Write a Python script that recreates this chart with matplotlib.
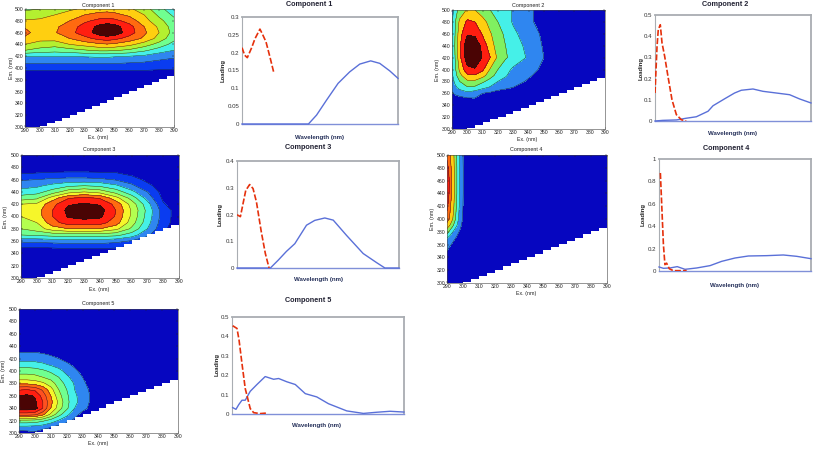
import numpy as np
import matplotlib
matplotlib.use("Agg")
import matplotlib.pyplot as plt

W, H = 813, 449
plt.rcParams['font.family'] = ['Liberation Sans', 'DejaVu Sans']

# ---- colours of the bands
DB, BL, LB, CY, GR, YG, YE, GO, OR, RE, DK = ('#0606c0', '#0a3cf0', '#2f86f0', '#45f0e8', '#70ff90',
                                               '#b4ff50', '#f6f62a', '#ffcf10', '#ff6a10', '#ff1e10', '#4a0404')
bands1 = [DB, BL, LB, CY, GR, '#b4f030', GO, OR, RE, DK]
bands2 = [DB, LB, CY, '#80f060', GO, RE, DK]
bands3 = [DB, BL, LB, CY, GR, YG, YE, OR, RE, DK]
bands4 = [DB, LB, CY, '#80f060', GO, OR, RE]
bands5 = [DB, LB, CY, GR, YG, YE, OR, '#ff5020', RE, DK]

# ---- contour data
ex1 = [290, 300, 310, 320, 330, 340, 345, 350, 360, 370, 380, 390]
em1 = [300, 394, 397, 410, 420, 430, 440, 450, 460, 470, 480, 490, 500]
z1 = [
 [.3, .3, .3, .3, .3, .3, .3, .3, .3, .3, .3, .3],
 [.8, .8, .8, .8, .8, .8, .8, .8, .8, .8, .8, .8],
 [1.1, 1.1, 1.1, 1.1, 1.1, 1.1, 1.1, 1.1, 1.1, 1.1, 1.0, 1.0],
 [2.2, 2.2, 2.2, 2.2, 2.2, 2.2, 2.2, 2.2, 2.1, 2.0, 1.8, 1.6],
 [3.0, 3.0, 3.0, 3.0, 3.1, 3.2, 3.2, 3.1, 3.0, 2.8, 2.4, 2.2],
 [5.0, 4.6, 4.4, 4.6, 4.9, 5.2, 5.2, 5.1, 4.8, 4.2, 3.5, 3.0],
 [6.0, 5.6, 5.4, 6.0, 6.4, 6.8, 6.9, 6.8, 6.3, 5.5, 4.6, 3.6],
 [6.8, 6.3, 6.4, 7.0, 7.7, 8.3, 8.5, 8.3, 7.6, 6.8, 5.6, 4.3],
 [7.3, 6.5, 6.9, 7.7, 8.5, 9.5, 9.8, 9.6, 8.5, 7.2, 6.0, 4.6],
 [6.9, 6.4, 6.8, 7.5, 8.4, 9.3, 9.6, 9.4, 8.4, 7.0, 5.8, 4.5],
 [6.1, 6.2, 6.5, 7.0, 7.8, 8.3, 8.4, 8.3, 7.6, 6.4, 5.3, 4.3],
 [5.5, 5.6, 6.0, 6.5, 7.0, 7.4, 7.4, 7.3, 6.8, 6.0, 4.8, 3.8],
 [4.8, 5.0, 5.3, 5.8, 6.2, 6.5, 6.6, 6.5, 6.2, 5.4, 4.4, 3.2],
]

ex2 = [290, 292, 295, 300, 305, 310, 315, 320, 325, 330, 340, 350, 360, 390]
em2 = [300, 350, 360, 370, 380, 390, 400, 420, 440, 460, 480, 500]
z2 = [
 [.2, .2, .2, .2, .2, .2, .2, .2, .2, .2, .2, .2, .2, .2],
 [.3, .4, .5, .8, .9, .8, .7, .6, .6, .5, .4, .3, .2, .2],
 [.9, 1.2, 1.5, 1.7, 1.4, 1.0, .8, .6, .5, .4, .3, .2, .2, .2],
 [1.3, 1.8, 2.3, 2.9, 2.8, 2.3, 1.9, 1.4, 1.2, 1.0, .6, .3, .2, .2],
 [1.6, 2.2, 3.0, 3.8, 3.8, 3.2, 2.6, 2.0, 1.7, 1.3, .9, .5, .3, .2],
 [1.8, 2.6, 3.7, 4.8, 4.9, 4.4, 3.4, 2.6, 2.1, 1.6, 1.1, .7, .3, .2],
 [1.9, 2.8, 4.2, 5.7, 5.9, 5.2, 3.9, 3.0, 2.4, 1.8, 1.25, .85, .3, .2],
 [2.0, 3.0, 4.7, 6.6, 6.8, 5.9, 5.0, 3.8, 3.1, 2.7, 1.85, 1.0, .4, .2],
 [2.0, 3.1, 4.8, 6.8, 6.9, 5.6, 4.5, 3.5, 3.0, 2.5, 1.7, .9, .3, .2],
 [2.0, 3.0, 4.6, 5.9, 5.7, 4.9, 4.1, 3.4, 2.8, 2.2, 1.5, .8, .3, .2],
 [1.9, 2.9, 4.2, 5.2, 5.0, 4.4, 3.6, 3.0, 2.4, 1.9, 1.2, .6, .2, .2],
 [1.5, 2.5, 3.4, 4.1, 4.0, 3.4, 3.0, 2.5, 2.2, 1.95, 1.2, .6, .2, .2],
]

ex3 = [290, 300, 310, 320, 330, 340, 350, 360, 370, 380, 390]
em3 = [300, 340, 350, 360, 370, 380, 390, 400, 410, 420, 430, 440, 450, 460, 470, 480, 500]
z3 = [
 [.2, .2, .2, .2, .2, .2, .2, .2, .2, .2, .2],
 [.3, .3, .3, .3, .3, .3, .3, .3, .2, .2, .2],
 [1.0, 1.0, 1.1, 1.2, 1.2, 1.2, 1.1, .8, .5, .3, .2],
 [2.2, 2.3, 2.4, 2.5, 2.5, 2.5, 2.3, 1.9, 1.4, .8, .3],
 [4.0, 4.2, 4.4, 4.5, 4.5, 4.5, 4.3, 3.5, 2.2, 1.0, .3],
 [5.0, 5.5, 6.5, 7.0, 7.0, 7.0, 6.3, 4.8, 3.0, 1.2, .4],
 [5.5, 6.0, 7.6, 8.5, 8.5, 8.4, 7.5, 5.5, 3.4, 1.4, .5],
 [6.0, 6.5, 8.0, 9.1, 9.4, 9.2, 7.9, 5.8, 3.6, 1.5, .5],
 [6.5, 6.6, 8.0, 9.3, 9.7, 9.4, 8.0, 5.9, 3.7, 1.5, .5],
 [6.0, 6.2, 7.7, 8.9, 9.1, 8.9, 7.7, 5.6, 3.4, 1.1, .4],
 [4.5, 4.8, 6.5, 7.9, 8.2, 7.9, 6.4, 4.6, 2.6, .8, .3],
 [3.4, 3.6, 4.5, 5.6, 6.0, 5.6, 4.6, 3.3, 2.0, .6, .3],
 [2.6, 2.8, 3.3, 3.8, 4.0, 3.8, 3.2, 2.2, 1.3, .4, .2],
 [1.9, 2.0, 2.2, 2.3, 2.3, 2.2, 1.9, 1.5, .7, .3, .2],
 [.95, 1.05, 1.15, 1.2, 1.2, 1.15, 1.1, .7, .3, .2, .2],
 [.4, .4, .4, .4, .4, .4, .4, .3, .2, .2, .2],
 [.2, .2, .2, .2, .2, .2, .2, .2, .2, .2, .2],
]

ex4 = [290, 292, 294, 296, 298, 300, 302, 390]
em4 = [300, 340, 350, 360, 370, 380, 390, 400, 420, 440, 460, 480, 500]
z4 = [
 [.2, .2, .2, .2, .2, .2, .2, .2],
 [.4, .3, .2, .2, .2, .2, .2, .2],
 [1.0, .6, .4, .3, .2, .2, .2, .2],
 [1.5, 1.1, .8, .6, .4, .2, .2, .2],
 [2.0, 1.5, 1.2, .9, .6, .3, .2, .2],
 [3.5, 2.6, 1.9, 1.3, .9, .5, .2, .2],
 [4.5, 3.9, 3.0, 2.1, 1.3, .7, .2, .2],
 [5.5, 4.8, 3.8, 2.6, 1.6, .9, .2, .2],
 [6.3, 5.1, 4.2, 2.9, 1.8, 1.0, .2, .2],
 [6.9, 5.5, 4.4, 3.1, 1.9, 1.05, .2, .2],
 [6.95, 5.6, 4.4, 3.1, 1.9, 1.05, .2, .2],
 [6.5, 5.3, 4.3, 3.1, 1.9, 1.05, .2, .2],
 [5.6, 5.0, 4.2, 3.0, 1.9, 1.0, .2, .2],
]

ex5 = [290, 295, 300, 305, 310, 315, 320, 325, 330, 335, 340, 350, 390]
em5 = [300, 310, 320, 330, 340, 350, 360, 370, 380, 390, 400, 410, 420, 430, 440, 500]
z5 = [
 [.5, .6, .8, .3, .2, .2, .2, .2, .2, .2, .2, .2, .2],
 [1.8, 1.8, 1.7, 1.5, 1.1, .7, .4, .2, .2, .2, .2, .2, .2],
 [3.7, 3.7, 3.6, 3.2, 2.6, 1.9, 1.3, .8, .4, .2, .2, .2, .2],
 [7.5, 7.5, 7.3, 6.3, 4.8, 3.4, 2.3, 1.3, .7, .3, .2, .2, .2],
 [9.6, 9.6, 9.4, 8.0, 6.0, 4.5, 3.2, 2.0, 1.3, .8, .3, .2, .2],
 [9.2, 9.4, 9.2, 8.0, 6.3, 4.8, 3.3, 2.3, 1.5, .9, .4, .2, .2],
 [9.0, 9.2, 8.9, 7.6, 6.0, 4.4, 3.2, 2.2, 1.5, .95, .5, .2, .2],
 [7.9, 8.0, 7.8, 6.8, 5.4, 4.0, 3.0, 2.0, 1.4, .85, .4, .2, .2],
 [5.8, 5.8, 5.6, 5.2, 4.5, 3.5, 2.7, 1.9, 1.2, .7, .3, .2, .2],
 [4.4, 4.4, 4.3, 4.0, 3.6, 3.0, 2.2, 1.6, 1.0, .5, .2, .2, .2],
 [3.6, 3.6, 3.5, 3.2, 2.8, 2.3, 1.7, 1.2, .7, .3, .2, .2, .2],
 [2.5, 2.5, 2.4, 2.2, 1.9, 1.6, 1.2, .8, .4, .2, .2, .2, .2],
 [1.6, 1.6, 1.6, 1.5, 1.3, 1.0, .7, .4, .2, .2, .2, .2, .2],
 [1.0, 1.0, 1.0, .9, .7, .5, .3, .2, .2, .2, .2, .2, .2],
 [.5, .5, .5, .4, .3, .2, .2, .2, .2, .2, .2, .2, .2],
 [.2, .2, .2, .2, .2, .2, .2, .2, .2, .2, .2, .2, .2],
]

# ---- staircase limit of the measured region
stair_ex = [300, 305, 310, 315, 320, 325, 330, 335, 340, 345, 350, 355, 360, 365, 370, 375, 380, 385, 390]
stair_em = [301, 306, 311, 316, 321, 326, 331, 336, 341, 346, 351, 356, 361, 366, 371, 376, 381, 386, 389]

# ---- loadings (x as % of the unlabelled wavelength axis)
red1x = [0, 1.7, 3.4, 6.2, 8.3, 11.5, 13, 15.4, 17.9, 20.5]
red1y = [.214, .193, .186, .214, .239, .266, .253, .230, .188, .142]
blu1x = [0, 42.6, 47.8, 54.2, 61.6, 69, 75.5, 82.5, 88.3, 94.7, 100]
blu1y = [0, 0, .025, .067, .114, .146, .168, .177, .170, .149, .128]

red2x = [0, 1.3, 2.1, 3.4, 4.5, 6.2, 8.3, 10.9, 13.7, 16.9, 20]
red2y = [.132, .352, .431, .454, .368, .305, .211, .10, .03, .006, 0]
blu2x = [0, 5, 13.7, 20, 26.5, 34, 37.2, 44.7, 51, 55.3, 62.8, 69.2, 77.8, 86.3, 92.7, 100]
blu2y = [0, .003, .005, .013, .02, .046, .072, .105, .132, .145, .151, .14, .132, .124, .104, .085]

red3x = [0, 2.1, 3.7, 5.4, 7.8, 9.9, 12, 15, 17.5, 19.8]
red3y = [.199, .192, .24, .29, .312, .297, .247, .135, .054, 0]
blu3x = [0, 20.6, 25.4, 30.5, 35.7, 42.9, 48, 54.2, 59.4, 67.6, 77.9, 86.2, 91.3, 100]
blu3y = [0, 0, .029, .062, .091, .16, .178, .187, .179, .122, .054, .02, 0, 0]

red4x = [.9, 1.8, 2.9, 3.9, 5, 6.8, 9.4, 18.2]
red4y = [.875, .59, .235, .057, .07, .02, .003, .003]
blu4x = [0, 2.9, 7.2, 12, 17.1, 24.8, 33.6, 41.2, 50, 58.8, 70.8, 81.8, 90.6, 100]
blu4y = [.036, .024, .027, .039, .015, .027, .048, .086, .116, .134, .137, .143, .131, .11]

red5x = [.4, 2.9, 4.1, 5.8, 7.7, 10.6, 12.6, 16.4, 20.3]
red5y = [.455, .441, .381, .26, .131, .028, .007, .002, .005]
blu5x = [.4, 2.3, 3.9, 5.8, 7.7, 10.6, 14.5, 19.3, 24.2, 27.1, 31.9, 36.8, 42.6, 49.3, 56.1, 66.7, 76.4, 84.1, 91.9, 100]
blu5y = [.033, .024, .048, .071, .071, .117, .152, .193, .179, .183, .166, .152, .105, .088, .053, .016, .003, .009, .014, .01]

titles = ['Component 1', 'Component 2', 'Component 3', 'Component 4', 'Component 5']
ex_ticks = list(range(290, 391, 10))
em_ticks = list(range(300, 501, 20))

fig = plt.figure(figsize=(W / 100, H / 100), dpi=100)


def box(l, t, r, b):
    return [l / W, 1 - b / H, (r - l) / W, (b - t) / H]


def put(x, y, s, **kw):
    fig.text(x / W, 1 - y / H, s, ha='center', va='center', **kw)


def contour_panel(rect, ex, em, z, bands, title_xy, xlab_xy, ylab_x, title):
    ax = fig.add_axes(box(*rect))
    levels = list(range(len(bands) + 1))
    ax.contourf(ex, em, z, levels=levels, colors=bands)
    ax.contour(ex, em, z, levels=levels[1:-1], colors='#1a1a1a', linewidths=0.3)
    ax.fill_between(stair_ex, 300, stair_em, step='post', color='white', zorder=2, lw=0)
    ax.set_xlim(290, 390)
    ax.set_ylim(300, 500)
    ax.set_xticks(ex_ticks)
    ax.set_yticks(em_ticks)
    ax.tick_params(direction='in', length=1.6, width=0.35, labelsize=3.7, pad=1,
                   top=True, right=True, colors='#222222')
    for s in ax.spines.values():
        s.set_linewidth(0.4)
        s.set_color('#444444')
        s.set_zorder(5)
    put(*title_xy, title, fontsize=3.9, color='#222222')
    put(*xlab_xy, 'Ex. (nm)', fontsize=3.8, color='#222222')
    put(ylab_x, (rect[1] + rect[3]) / 2, 'Em. (nm)', fontsize=3.8, rotation=90, color='#222222')


def loading_panel(rect, rx, ry, bx, by, ymax, yt, ylabs, title_xy, xlab_xy, ylab_xy, title):
    ax = fig.add_axes(box(*rect))
    ax.plot(bx, by, color='#5a70d8', lw=1.0, zorder=3, clip_on=False)
    ax.plot(rx, ry, color='#e5300c', lw=1.2, ls=(0, (3.6, 1.3)), zorder=4)
    ax.set_xlim(0, 100)
    ax.set_ylim(0, ymax)
    ax.set_xticks([])
    ax.set_yticks(yt, ylabs)
    ax.tick_params(length=0, labelsize=4.4, pad=2, labelcolor='#333333')
    for n, s in ax.spines.items():
        s.set_linewidth(1.3)
        s.set_color('#a9adb2')
    ax.spines['left'].set_linewidth(0.8)
    ax.spines['bottom'].set_color('#8090d8')
    ax.spines['bottom'].set_linewidth(1.0)
    put(*title_xy, title, fontsize=5.2, fontweight='bold', color='#222233')
    put(*xlab_xy, 'Wavelength (nm)', fontsize=4.4, fontweight='bold', color='#25305a')
    put(*ylab_xy, 'Loading', fontsize=4.2, fontweight='bold', rotation=90, color='#222222')


contour_panel((25, 9, 174, 127), ex1, em1, z1, bands1, (98, 5), (98, 137), 11, titles[0])
contour_panel((452, 10, 605, 129), ex2, em2, z2, bands2, (528, 5), (527, 140), 437, titles[1])
contour_panel((21, 155, 179, 278), ex3, em3, z3, bands3, (99, 150), (99, 289), 6, titles[2])
contour_panel((447, 155, 607, 283), ex4, em4, z4, bands4, (526, 150), (526, 293), 432, titles[3])
contour_panel((19, 309, 178, 433), ex5, em5, z5, bands5, (98, 304), (98, 444), 4, titles[4])

loading_panel((242, 17, 398, 124), red1x, red1y, blu1x, blu1y, .3, [0, .05, .1, .15, .2, .25, .3],
              ['0', '0.05', '0.1', '0.15', '0.2', '0.25', '0.3'], (309, 4), (319, 137), (223, 70), titles[0])
loading_panel((655, 15, 811, 121), red2x, red2y, blu2x, blu2y, .5, [0, .1, .2, .3, .4, .5],
              ['0', '0.1', '0.2', '0.3', '0.4', '0.5'], (725, 4), (732, 133), (641, 68), titles[1])
loading_panel((237, 161, 399, 268), red3x, red3y, blu3x, blu3y, .4, [0, .1, .2, .3, .4],
              ['0', '0.1', '0.2', '0.3', '0.4'], (308, 148), (318, 280), (220, 214), titles[2])
loading_panel((659, 159, 811, 271), red4x, red4y, blu4x, blu4y, 1, [0, .2, .4, .6, .8, 1],
              ['0', '0.2', '0.4', '0.6', '0.8', '1'], (726, 149), (734, 285), (643, 214), titles[3])
loading_panel((232, 317, 404, 414), red5x, red5y, blu5x, blu5y, .5, [0, .1, .2, .3, .4, .5],
              ['0', '0.1', '0.2', '0.3', '0.4', '0.5'], (308, 301), (316, 426), (217, 365), titles[4])

fig.savefig('out.png', dpi=100)
